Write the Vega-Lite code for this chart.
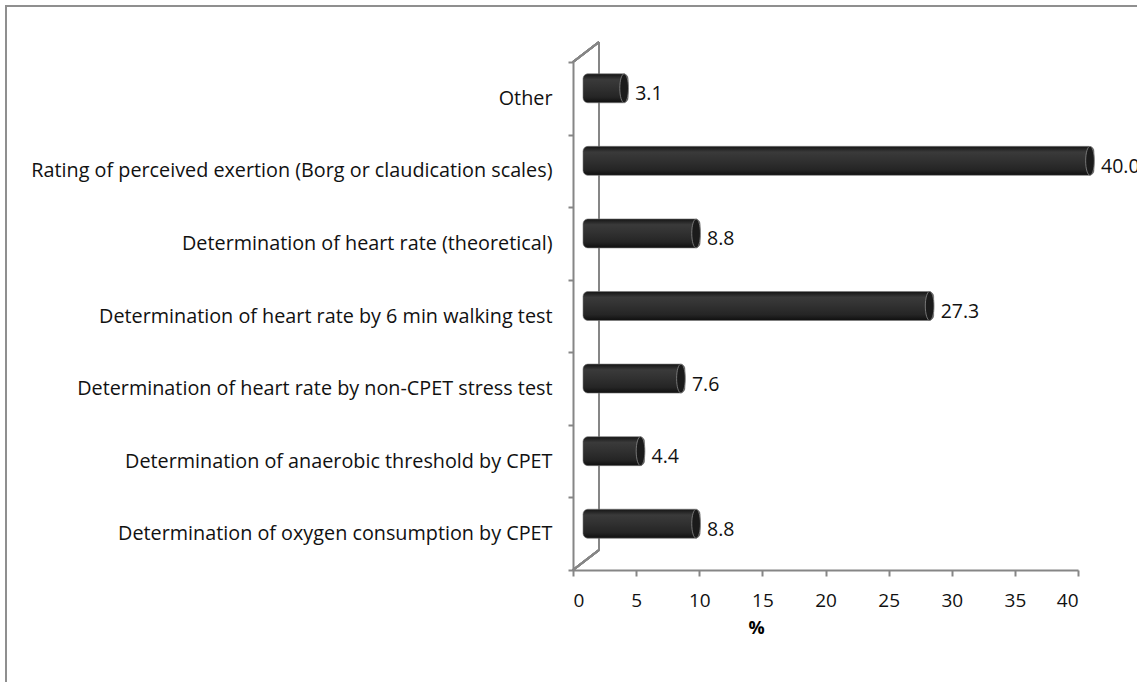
{
  "$schema": "https://vega.github.io/schema/vega-lite/v6.json",
  "autosize": {"type": "none"},
  "padding": {"left": 6, "top": 6, "right": 0, "bottom": 0},
  "width": 1140,
  "height": 690,
  "background": "white",
  "config": {
    "view": {"stroke": "#8f8f8f", "strokeWidth": 2, "fill": "white"},
    "axis": {"domainColor": "#868686", "tickColor": "#868686", "domainWidth": 2, "tickWidth": 2, "grid": false, "labelFont": "Open Sans", "labelColor": "#111111", "titleFont": "Open Sans"}
  },
  "data": {"values": [
    {"method": "Other", "pct": 3.1},
    {"method": "Rating of perceived exertion (Borg or claudication scales)", "pct": 40.0},
    {"method": "Determination of heart rate (theoretical)", "pct": 8.8},
    {"method": "Determination of heart rate by 6 min walking test", "pct": 27.3},
    {"method": "Determination of heart rate by non-CPET stress test", "pct": 7.6},
    {"method": "Determination of anaerobic threshold by CPET", "pct": 4.4},
    {"method": "Determination of oxygen consumption by CPET", "pct": 8.8}
  ]},
  "resolve": {"scale": {"y": "independent"}},
  "layer": [
    {
      "mark": {"type": "rule", "color": "#868686", "strokeWidth": 2, "yOffset": -20, "y2Offset": -20},
      "encoding": {
        "x": {"datum": 2.06, "type": "quantitative", "scale": {"domain": [0, 40], "nice": false, "range": [567, 1072]}},
        "y": {"datum": 0, "type": "quantitative", "scale": {"domain": [0, 7], "range": [564, 56], "nice": false, "zero": false}, "axis": null},
        "y2": {"datum": 7}
      }
    },
    {
      "mark": {"type": "rule", "color": "#868686", "strokeWidth": 2, "y2Offset": -20},
      "encoding": {
        "x": {"datum": 0, "type": "quantitative"},
        "x2": {"datum": 2.06},
        "y": {"datum": 7, "type": "quantitative", "scale": {"domain": [0, 7], "range": [564, 56], "nice": false, "zero": false}, "axis": null},
        "y2": {"datum": 7}
      }
    },
    {
      "mark": {"type": "rule", "color": "#868686", "strokeWidth": 2, "y2Offset": -20},
      "encoding": {
        "x": {"datum": 0, "type": "quantitative"},
        "x2": {"datum": 2.06},
        "y": {"datum": 0, "type": "quantitative", "scale": {"domain": [0, 7], "range": [564, 56], "nice": false, "zero": false}, "axis": null},
        "y2": {"datum": 0}
      }
    },
    {
      "encoding": {
        "y": {"field": "method", "type": "nominal", "sort": null,
              "scale": {"range": [56, 564], "paddingInner": 0, "paddingOuter": 0},
              "axis": {"title": null, "offset": -567, "tickBand": "extent", "tickSize": 5, "labelPadding": 16, "labelFontSize": 19.8, "labelLimit": 1000}},
        "x": {"field": "pct", "type": "quantitative",
              "scale": {"domain": [0, 40], "nice": false, "range": [567, 1072]},
              "axis": {"title": "%", "titleFontWeight": "bold", "titleFontSize": 18, "titleX": 750, "titleY": 58, "titleBaseline": "middle", "offset": -126, "values": [0, 5, 10, 15, 20, 25, 30, 35, 40], "tickSize": 6, "labelPadding": 15, "labelFontSize": 19}}
      },
      "layer": [
        {
          "mark": {"type": "bar", "height": {"band": 0.4}, "yOffset": -10, "xOffset": 16, "x2Offset": 10, "cornerRadius": 5, "stroke": "#7a7a7a", "strokeWidth": 0.6,
                   "color": {"gradient": "linear", "x1": 0, "y1": 0, "x2": 0, "y2": 1, "stops": [
                     {"offset": 0, "color": "#141414"}, {"offset": 0.2, "color": "#3a3a3a"}, {"offset": 0.45, "color": "#323232"}, {"offset": 0.8, "color": "#252525"}, {"offset": 1, "color": "#0f0f0f"}]}},
          "encoding": {"x2": {"datum": 0}}
        },
        {
          "mark": {"type": "point", "shape": "M 0 -1 A 0.3 1 0 1 1 0 1 A 0.3 1 0 1 1 0 -1 Z", "size": 841, "filled": true, "opacity": 1, "color": "#1b1b1b", "stroke": "#8a8a8a", "strokeWidth": 0.8, "xOffset": 12, "yOffset": -10}
        },
        {
          "mark": {"type": "text", "align": "left", "baseline": "middle", "xOffset": 23, "yOffset": -4, "font": "Open Sans", "fontSize": 19.5, "color": "#111111"},
          "encoding": {"text": {"field": "pct", "type": "quantitative", "format": ".1f"}}
        }
      ]
    }
  ]
}
